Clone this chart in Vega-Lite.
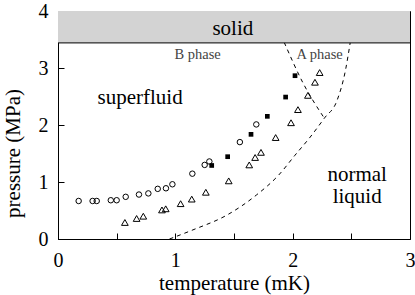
{
  "$schema": "https://vega.github.io/schema/vega-lite/v6.json",
  "width": 352,
  "height": 228,
  "autosize": {"type": "none"},
  "padding": {"left": 58, "top": 11, "right": 5, "bottom": 56},
  "background": "white",
  "config": {
    "view": {"stroke": "black", "strokeWidth": 1},
    "font": "Liberation Serif",
    "axis": {
      "grid": false,
      "domainColor": "black",
      "tickColor": "black",
      "labelColor": "black",
      "titleColor": "black",
      "labelFont": "Liberation Serif",
      "titleFont": "Liberation Serif",
      "labelFontSize": 20,
      "titleFontSize": 21,
      "titleFontWeight": "normal",
      "tickSize": -6
    }
  },
  "datasets": {
    "solid": [{"x": 0, "x2": 3, "y": 3.44, "y2": 4}],
    "curves": [
      {"curve": "Tc", "T": 0.95, "P": 0},
      {"curve": "Tc", "T": 1.15, "P": 0.16},
      {"curve": "Tc", "T": 1.44, "P": 0.42},
      {"curve": "Tc", "T": 1.69, "P": 0.77},
      {"curve": "Tc", "T": 1.88, "P": 1.12},
      {"curve": "Tc", "T": 2.02, "P": 1.47},
      {"curve": "Tc", "T": 2.15, "P": 1.79},
      {"curve": "Tc", "T": 2.27, "P": 2.12},
      {"curve": "Tc", "T": 2.38, "P": 2.44},
      {"curve": "Tc", "T": 2.45, "P": 2.96},
      {"curve": "Tc", "T": 2.49, "P": 3.44},
      {"curve": "AB", "T": 1.93, "P": 3.44},
      {"curve": "AB", "T": 2.09, "P": 2.73},
      {"curve": "AB", "T": 2.26, "P": 2.15}
    ],
    "points": [
      {"set": "circle", "T": 0.176, "P": 0.667},
      {"set": "circle", "T": 0.295, "P": 0.667},
      {"set": "circle", "T": 0.33, "P": 0.667},
      {"set": "circle", "T": 0.45, "P": 0.68},
      {"set": "circle", "T": 0.5, "P": 0.68},
      {"set": "circle", "T": 0.577, "P": 0.74},
      {"set": "circle", "T": 0.69, "P": 0.78},
      {"set": "circle", "T": 0.77, "P": 0.8},
      {"set": "circle", "T": 0.85, "P": 0.88},
      {"set": "circle", "T": 0.92, "P": 0.89},
      {"set": "circle", "T": 0.975, "P": 0.96},
      {"set": "circle", "T": 1.145, "P": 1.146},
      {"set": "circle", "T": 1.25, "P": 1.3},
      {"set": "circle", "T": 1.29, "P": 1.36},
      {"set": "circle", "T": 1.55, "P": 1.7},
      {"set": "circle", "T": 1.69, "P": 2.01},
      {"set": "square", "T": 1.31, "P": 1.29},
      {"set": "square", "T": 1.446, "P": 1.444},
      {"set": "square", "T": 1.645, "P": 1.836},
      {"set": "square", "T": 1.784, "P": 2.152},
      {"set": "square", "T": 1.94, "P": 2.49},
      {"set": "square", "T": 2.02, "P": 2.865},
      {"set": "triangle", "T": 0.57, "P": 0.29},
      {"set": "triangle", "T": 0.67, "P": 0.36},
      {"set": "triangle", "T": 0.727, "P": 0.4},
      {"set": "triangle", "T": 0.886, "P": 0.51},
      {"set": "triangle", "T": 0.918, "P": 0.53},
      {"set": "triangle", "T": 1.045, "P": 0.62},
      {"set": "triangle", "T": 1.14, "P": 0.7},
      {"set": "triangle", "T": 1.26, "P": 0.82},
      {"set": "triangle", "T": 1.455, "P": 1.02},
      {"set": "triangle", "T": 1.63, "P": 1.3},
      {"set": "triangle", "T": 1.68, "P": 1.43},
      {"set": "triangle", "T": 1.73, "P": 1.52},
      {"set": "triangle", "T": 1.855, "P": 1.78},
      {"set": "triangle", "T": 1.986, "P": 2.04},
      {"set": "triangle", "T": 2.045, "P": 2.27},
      {"set": "triangle", "T": 2.13, "P": 2.52},
      {"set": "triangle", "T": 2.19, "P": 2.75},
      {"set": "triangle", "T": 2.23, "P": 2.92}
    ],
    "bigLabels": [
      {"label": "solid", "T": 1.49, "P": 3.68},
      {"label": "superfluid", "T": 0.7, "P": 2.47},
      {"label": "normal", "T": 2.55, "P": 1.12},
      {"label": "liquid", "T": 2.55, "P": 0.74}
    ],
    "phaseLabels": [
      {"label": "B phase", "T": 1.19, "P": 3.23},
      {"label": "A phase", "T": 2.23, "P": 3.23}
    ]
  },
  "layer": [
    {
      "data": {"name": "solid"},
      "mark": {"type": "rect", "fill": "#d3d3d3", "stroke": null},
      "encoding": {
        "x": {"field": "x", "type": "quantitative", "scale": {"domain": [0, 3], "nice": false},
          "axis": {"values": [0, 0.5, 1, 1.5, 2, 2.5, 3], "labelExpr": "datum.value % 1 === 0 ? '' + datum.value : ''", "title": "temperature (mK)", "labelFont": "Liberation Serif", "titleFont": "Liberation Serif", "labelPadding": 17, "titlePadding": 2, "labelFlush": false}},
        "x2": {"field": "x2"},
        "y": {"field": "y", "type": "quantitative", "scale": {"domain": [0, 4], "nice": false},
          "axis": {"values": [0, 0.5, 1, 1.5, 2, 2.5, 3, 3.5, 4], "labelExpr": "datum.value % 1 === 0 ? '' + datum.value : ''", "title": "pressure (MPa)", "labelFont": "Liberation Serif", "titleFont": "Liberation Serif", "labelPadding": 16, "titlePadding": 15, "titleY": 142, "labelFlush": false}},
        "y2": {"field": "y2"}
      }
    },
    {
      "data": {"name": "solid"},
      "mark": {"type": "rule", "color": "black", "strokeWidth": 1},
      "encoding": {
        "x": {"field": "x", "type": "quantitative"},
        "x2": {"field": "x2"},
        "y": {"field": "y", "type": "quantitative"}
      }
    },
    {
      "data": {"name": "curves"},
      "mark": {"type": "line", "color": "black", "strokeWidth": 1, "strokeDash": [4, 4], "interpolate": "monotone"},
      "encoding": {
        "x": {"field": "T", "type": "quantitative"},
        "y": {"field": "P", "type": "quantitative"},
        "detail": {"field": "curve"},
        "order": {"field": "P", "type": "quantitative"}
      }
    },
    {
      "data": {"name": "points"},
      "transform": [{"filter": "datum.set === 'circle'"}],
      "mark": {"type": "point", "shape": "circle", "filled": false, "color": "black", "size": 30, "strokeWidth": 1, "opacity": 1},
      "encoding": {
        "x": {"field": "T", "type": "quantitative"},
        "y": {"field": "P", "type": "quantitative"}
      }
    },
    {
      "data": {"name": "points"},
      "transform": [{"filter": "datum.set === 'square'"}],
      "mark": {"type": "square", "color": "black", "size": 22, "opacity": 1},
      "encoding": {
        "x": {"field": "T", "type": "quantitative"},
        "y": {"field": "P", "type": "quantitative"}
      }
    },
    {
      "data": {"name": "points"},
      "transform": [{"filter": "datum.set === 'triangle'"}],
      "mark": {"type": "point", "shape": "triangle-up", "filled": false, "color": "black", "size": 45, "strokeWidth": 1, "opacity": 1},
      "encoding": {
        "x": {"field": "T", "type": "quantitative"},
        "y": {"field": "P", "type": "quantitative"}
      }
    },
    {
      "data": {"name": "bigLabels"},
      "mark": {"type": "text", "font": "Liberation Serif", "fontSize": 21, "color": "black", "align": "center", "baseline": "middle"},
      "encoding": {
        "x": {"field": "T", "type": "quantitative"},
        "y": {"field": "P", "type": "quantitative"},
        "text": {"field": "label"}
      }
    },
    {
      "data": {"name": "phaseLabels"},
      "mark": {"type": "text", "font": "Liberation Serif", "fontSize": 14.5, "color": "#444444", "align": "center", "baseline": "middle"},
      "encoding": {
        "x": {"field": "T", "type": "quantitative"},
        "y": {"field": "P", "type": "quantitative"},
        "text": {"field": "label"}
      }
    }
  ]
}
